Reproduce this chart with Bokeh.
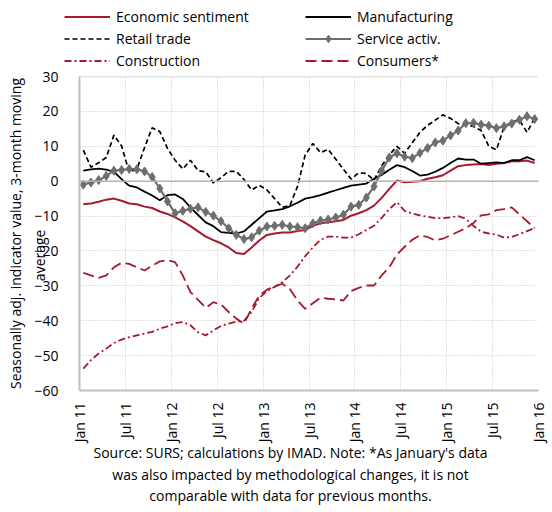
import math
from bokeh.plotting import figure
from bokeh.layouts import column, row
from bokeh.models import (Range1d, FixedTicker, Span, Label, Legend, LegendItem,
                          ColumnDataSource)
from bokeh.embed import file_html
from bokeh.resources import INLINE

# ---- data (monthly, Jan 2011 .. Dec 2015) ----
sentiment = [-6.6, -6.4, -5.9, -5.3, -5.0, -5.6, -6.4, -6.6, -7.3, -7.7,
             -8.7, -9.4, -10.4, -11.5, -12.9, -14.4, -15.9, -16.9, -17.8, -19.0,
             -20.6, -20.9, -19.0, -17.0, -15.4, -15.0, -14.7, -14.7, -14.3, -14.0,
             -12.8, -12.1, -11.8, -11.5, -11.1, -9.9, -9.2, -8.3, -7.0, -4.8,
             -2.2, 0.2, -0.3, -0.2, 0.0, 0.7, 1.1, 1.7, 3.0, 4.3,
             4.6, 4.8, 4.9, 4.6, 5.0, 5.2, 5.7, 5.7, 5.9, 5.2]
manufacturing = [3.0, 3.4, 3.6, 3.3, 2.7, 0.6, -1.3, -1.8, -3.0, -4.1,
                 -5.5, -4.0, -3.8, -5.1, -7.5, -9.7, -11.8, -12.9, -14.6, -14.8,
                 -15.0, -14.4, -12.5, -10.6, -8.7, -8.4, -8.0, -7.2, -6.2, -5.0,
                 -4.6, -4.0, -3.3, -2.6, -1.9, -1.3, -1.0, -0.7, 0.7, 1.8,
                 3.3, 4.6, 4.0, 2.9, 1.6, 1.9, 2.7, 3.8, 5.2, 6.5,
                 6.2, 6.2, 5.0, 5.2, 5.4, 5.2, 6.0, 6.0, 6.9, 6.0]
retail = [8.9, 4.0, 5.3, 6.8, 13.2, 10.1, 2.6, 3.4, 9.6, 15.3,
          14.2, 9.4, 6.0, 3.5, 6.0, 3.0, 2.7, -0.5, 1.0, 2.8,
          2.8, 0.5, -2.5, -1.2, -2.5, -5.0, -7.5, -7.0, -1.5, 7.5,
          10.8, 8.2, 9.1, 6.3, 3.4, 0.6, 2.4, 2.2, 0.3, 4.4,
          7.5, 10.0, 8.0, 11.0, 14.0, 16.0, 17.5, 19.0, 18.0, 16.5,
          16.2, 15.7, 14.5, 10.0, 9.0, 15.5, 17.0, 17.5, 14.0, 18.0]
service = [-1.0, -0.4, 0.3, 1.5, 3.0, 3.2, 3.5, 3.4, 2.8, 1.2,
           -2.1, -5.8, -9.2, -8.5, -7.9, -7.5, -8.8, -9.9, -11.5, -13.5,
           -15.4, -16.6, -16.1, -14.2, -13.0, -12.8, -12.5, -13.0, -13.2, -13.5,
           -12.1, -11.3, -11.0, -10.4, -9.6, -7.3, -6.8, -4.7, -1.5, 3.0,
           6.8, 8.0, 7.0, 6.6, 8.1, 9.5, 11.1, 11.6, 13.1, 14.5,
           16.6, 16.7, 16.2, 15.9, 15.2, 15.7, 16.5, 17.6, 18.6, 17.8]
construction = [-53.7, -51.3, -49.4, -48.0, -46.4, -45.4, -44.7, -44.2, -43.7, -43.2,
                -42.3, -41.6, -40.7, -40.4, -41.3, -43.3, -44.2, -42.8, -41.5, -40.8,
                -40.3, -40.0, -37.5, -33.5, -31.5, -30.3, -29.0, -27.0, -24.5, -21.5,
                -19.0, -16.8, -15.9, -15.9, -16.2, -16.2, -15.2, -14.0, -12.8, -10.5,
                -8.0, -6.0, -8.5, -9.3, -9.8, -10.2, -10.6, -10.6, -10.4, -10.0,
                -10.8, -12.8, -14.5, -15.0, -15.3, -16.2, -16.0, -15.2, -14.3, -13.4]
consumers = [-26.3, -27.0, -27.7, -27.0, -24.7, -23.4, -23.7, -24.7, -25.6, -24.2,
             -23.0, -22.6, -23.2, -27.0, -31.8, -34.0, -36.3, -34.7, -35.3, -37.5,
             -39.4, -40.8, -36.5, -32.8, -31.1, -30.2, -29.4, -30.9, -34.2, -36.6,
             -35.0, -33.4, -33.7, -33.9, -34.2, -31.5, -30.6, -29.9, -29.9, -27.0,
             -24.7, -21.0, -18.8, -16.8, -15.5, -16.0, -17.0, -16.5, -15.5, -14.5,
             -13.5, -12.0, -9.8, -9.5, -8.3, -8.0, -7.5, -9.5, -11.5, -13.5]

tick_labels = ["Jan 11", "Jul 11", "Jan 12", "Jul 12", "Jan 13", "Jul 13",
               "Jan 14", "Jul 14", "Jan 15", "Jul 15", "Jan 16"]
y_ticks = [-60, -50, -40, -30, -20, -10, 0, 10, 20, 30]
series_names = ["Economic sentiment", "Retail trade", "Construction",
                "Manufacturing", "Service activ.", "Consumers*"]
y_title = ["Seasonally adj. indicator value, 3-month moving", "average"]
notes = ["Source: SURS; calculations by IMAD. Note: *As January's data",
         "was also impacted by methodological changes, it is not",
         "comparable with data for previous months."]

months = [i + 0.5 for i in range(len(sentiment))]
tick_pos = [6 * k for k in range(len(tick_labels))]

src = ColumnDataSource(dict(x=months, sentiment=sentiment, manufacturing=manufacturing,
                            retail=retail, service=service, construction=construction,
                            consumers=consumers))

RED = "#a6192e"
GRAY = "#6e6e6e"
FONT = "Open Sans"

STYLES = {
    "Economic sentiment": dict(line_color=RED, line_width=2),
    "Manufacturing": dict(line_color="black", line_width=1.8),
    "Retail trade": dict(line_color="black", line_width=1.7, line_dash="5 3"),
    "Construction": dict(line_color=RED, line_width=1.8, line_dash="7 3 2 3"),
    "Consumers*": dict(line_color=RED, line_width=1.8, line_dash="11 5"),
    "Service activ.": dict(line_color=GRAY, line_width=2.2),
}
COLS = {"Economic sentiment": "sentiment", "Manufacturing": "manufacturing",
        "Retail trade": "retail", "Construction": "construction",
        "Consumers*": "consumers", "Service activ.": "service"}
MARKER = dict(marker="diamond", size=9, fill_color=GRAY, line_color=GRAY)


def bare(width, height):
    f = figure(width=width, height=height, x_range=Range1d(0, 1), y_range=Range1d(0, 1),
               output_backend="svg", toolbar_location=None,
               x_axis_location=None, y_axis_location=None,
               min_border=0, min_border_left=0, min_border_right=0,
               min_border_top=0, min_border_bottom=0)
    f.outline_line_color = None
    f.xgrid.visible = False
    f.ygrid.visible = False
    return f


# ---------------- legend strip ----------------
# legend samples use off-screen renderers (outside the 0..1 ranges) so only the
# legend glyphs are visible
leg_fig = bare(548, 68)
off = ColumnDataSource(dict(x=[-10, -9], y=[-10, -9]))
leg_items = {}
for name in series_names:
    rs = [leg_fig.line("x", "y", source=off, **STYLES[name])]
    if name == "Service activ.":
        rs.append(leg_fig.scatter("x", "y", source=off, **MARKER))
    leg_items[name] = LegendItem(label=name, renderers=rs)


def make_legend(names, x):
    return Legend(items=[leg_items[n] for n in names], location=(x, -2),
                  orientation="vertical", padding=0, margin=0, spacing=3,
                  glyph_width=46, glyph_height=19, label_height=19, label_standoff=6,
                  label_text_font=FONT, label_text_font_size="14px",
                  label_text_color="black", label_text_line_height=1.0,
                  background_fill_alpha=0, border_line_color=None)


leg_fig.add_layout(make_legend(series_names[:3], 64))
leg_fig.add_layout(make_legend(series_names[3:], 305))

# ---------------- main chart ----------------
p = figure(width=548, height=377, x_range=Range1d(0, 60), y_range=Range1d(-60, 30),
           output_backend="svg", toolbar_location=None,
           min_border_left=79, min_border_right=10, min_border_top=8, min_border_bottom=53)
p.outline_line_color = None

p.xaxis.ticker = FixedTicker(ticks=tick_pos)
p.xaxis.major_label_overrides = {t: l for t, l in zip(tick_pos, tick_labels)}
p.xaxis.major_label_orientation = math.pi / 2
p.yaxis.ticker = FixedTicker(ticks=y_ticks)
for ax in (p.xaxis[0], p.yaxis[0]):
    ax.axis_line_color = "#bfbfbf"
    ax.axis_line_width = 2
    ax.major_tick_line_color = None
    ax.minor_tick_line_color = None
    ax.major_label_text_font = FONT
    ax.major_label_text_font_size = "14px"
    ax.major_label_text_color = "black"
p.xaxis.major_label_standoff = 6
p.yaxis.major_label_standoff = 15

# two-line axis title; trailing no-break spaces nudge the short second line
# towards the lower part of the axis as in the original
p.yaxis.axis_label = y_title[0] + "\n" + y_title[1] + "\u00a0" * 12
p.yaxis.axis_label_standoff = -18
p.yaxis.axis_label_text_font = FONT
p.yaxis.axis_label_text_font_size = "14px"
p.yaxis.axis_label_text_font_style = "normal"
p.yaxis.axis_label_text_color = "black"
p.yaxis.axis_label_text_line_height = 1.3

p.xgrid.ticker = FixedTicker(ticks=tick_pos)
p.ygrid.ticker = FixedTicker(ticks=y_ticks)
for g in (p.xgrid[0], p.ygrid[0]):
    g.grid_line_color = "#c4c4c4"
    g.grid_line_dash = "1 2"
    g.grid_line_width = 1

p.add_layout(Span(location=0, dimension="width", line_color="#b4b4b4", line_width=1.5))
p.add_layout(Span(location=30, dimension="width", line_color="#c8c8c8", line_width=1.5))

for name in ["Economic sentiment", "Manufacturing", "Retail trade", "Construction",
             "Consumers*", "Service activ."]:
    p.line("x", COLS[name], source=src, **STYLES[name])
p.scatter("x", "service", source=src, **MARKER)

# ---------------- source note ----------------
note_fig = bare(548, 63)
for k, t in enumerate(notes):
    note_fig.add_layout(Label(x=290, y=56 - 21.5 * k, x_units="screen", y_units="screen",
                              text=t, text_align="center", text_baseline="alphabetic",
                              text_color="black", text_font=FONT, text_font_size="14px"))

# wrap each figure in its own row so the column does not align their frames
layout = column(row(leg_fig), row(p), row(note_fig))
open("out.html", "w").write(file_html(layout, INLINE))
